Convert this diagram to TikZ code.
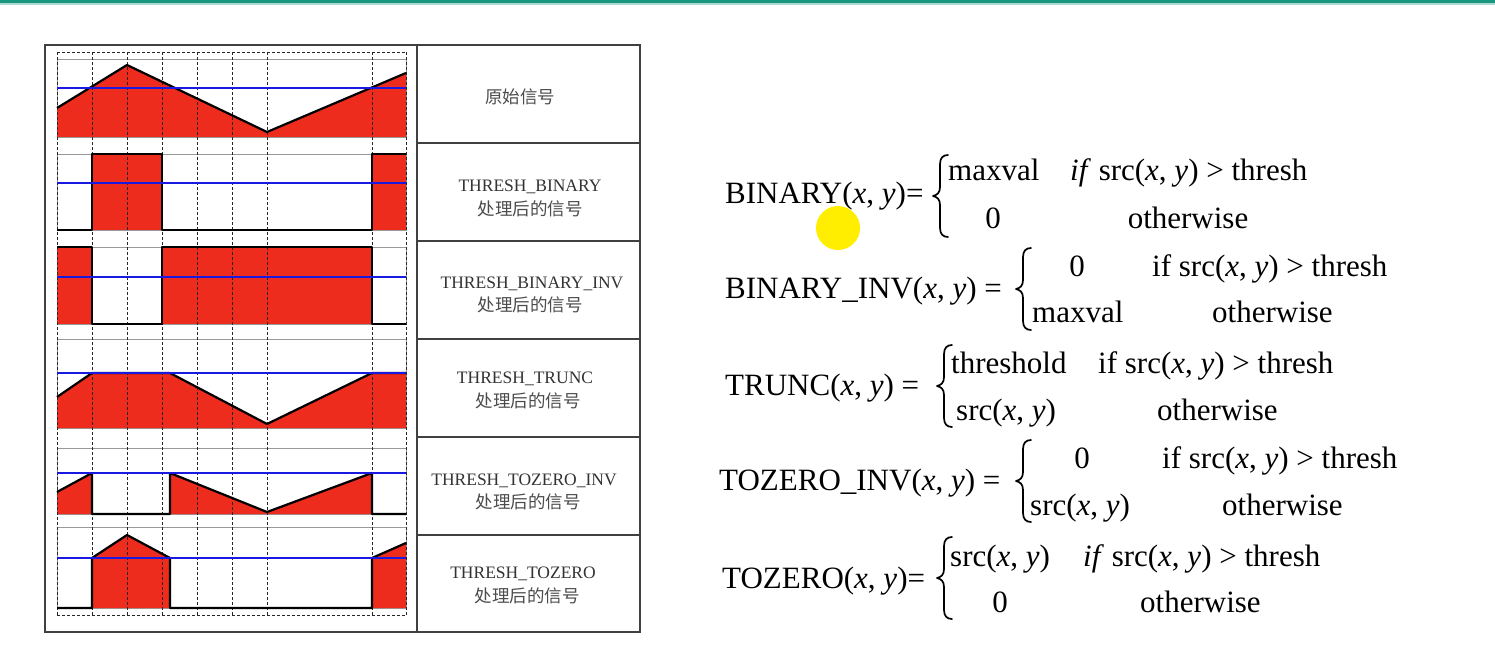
\documentclass[tikz,border=0pt]{standalone}
\usepackage{fontspec}
\setmainfont{Liberation Serif}
\newfontfamily\cjk{Noto Sans CJK SC}
\definecolor{sigred}{RGB}{238,44,30}
\definecolor{thblue}{RGB}{25,25,225}
\definecolor{topbar}{RGB}{24,150,128}
\definecolor{dotyellow}{RGB}{255,238,0}
\begin{document}
\begin{tikzpicture}[x=1pt,y=-1pt,
  frameline/.style={draw=black!75, line width=1.2pt},
  subframe/.style={draw=black!40, line width=0.7pt},
  griddash/.style={draw=black!85, line width=0.7pt, dash pattern=on 3pt off 2pt},
  sigline/.style={draw=black, line width=2.2pt, line join=round},
  thline/.style={draw=thblue, line width=2.2pt},
  title/.style={text=black!80, font=\fontsize{17.5}{19}\selectfont, inner sep=0pt},
  titlecn/.style={text=black!70, font=\cjk\fontsize{17.5}{19}\selectfont, inner sep=0pt},
  formula/.style={font=\fontsize{31}{36}\selectfont, inner sep=0pt},
  curlybrace/.pic={
    \draw[line width=1.7pt, line cap=round, line join=round]
      (15,-41) .. controls (10,-41) and (7,-38) .. (7,-32) -- (7,-9)
      .. controls (7,-3) and (4,-1) .. (0,0)
      .. controls (4,1) and (7,3) .. (7,9) -- (7,32)
      .. controls (7,38) and (10,41) .. (15,41);
  }]
\useasboundingbox (0,0) rectangle (1495,671);
\fill[white] (0,0) rectangle (1495,671);
\fill[topbar] (0,0) rectangle (1495,3.5);
\fill[topbar!35] (0,3.5) rectangle (1495,5);

% sub-plot frames
\foreach \t/\b in {59/137,154/230,247/324,339/428,448/514,527/608}
  \draw[subframe] (57,\t) rectangle (406,\b);

% red fills
\fill[sigred] (57,137) -- (57,108) -- (127,65) -- (267,132) -- (406,73) -- (406,137) -- cycle;
\fill[sigred] (92,154) rectangle (162,230);
\fill[sigred] (372,154) rectangle (406,230);
\fill[sigred] (57,247) rectangle (92,324);
\fill[sigred] (162,247) rectangle (372,324);
\fill[sigred] (57,428) -- (57,397) -- (92,373) -- (170,373) -- (267,424) -- (372,373) -- (406,373) -- (406,428) -- cycle;
\fill[sigred] (57,514) -- (57,492) -- (92,473) -- (92,514) -- cycle;
\fill[sigred] (170,514) -- (170,473) -- (267,512) -- (372,473) -- (372,514) -- cycle;
\fill[sigred] (92,608) -- (92,558) -- (127,535) -- (170,558) -- (170,608) -- cycle;
\fill[sigred] (372,608) -- (372,558) -- (406,543) -- (406,608) -- cycle;

% dashed grid
\foreach \x in {57,92,127,162,197,232,267,372,406}
  \draw[griddash] (\x,52) -- (\x,615);
\draw[griddash] (57,52) -- (406,52);
\draw[griddash] (57,615) -- (406,615);

% signal outlines
\draw[sigline] (57,108) -- (127,65) -- (267,132) -- (406,73);
\draw[sigline] (57,230) -- (92,230) -- (92,154) -- (162,154) -- (162,230) -- (372,230) -- (372,154) -- (406,154);
\draw[sigline] (57,247) -- (92,247) -- (92,324) -- (162,324) -- (162,247) -- (372,247) -- (372,324) -- (406,324);
\draw[sigline] (57,397) -- (92,373) -- (170,373) -- (267,424) -- (372,373) -- (406,373);
\draw[sigline] (57,492) -- (92,473) -- (92,514) -- (170,514) -- (170,473) -- (267,512) -- (372,473) -- (372,514) -- (406,514);
\draw[sigline] (57,608) -- (92,608) -- (92,558) -- (127,535) -- (170,558) -- (170,608) -- (372,608) -- (372,558) -- (406,543);

% threshold lines
\foreach \y in {88,183,277,373,473,558}
  \draw[thline] (57,\y) -- (406,\y);

% table frame
\draw[frameline] (45,45) rectangle (640,632);
\draw[frameline] (417,45) -- (417,632);
\foreach \y in {143,241,339,437,535}
  \draw[frameline] (417,\y) -- (640,\y);

% titles
\node[titlecn] (t1) at (520,97) {原始信号};
\node[title] (t2a) at (530,187) {THRESH\_BINARY};
\node[titlecn] (t2b) at (530,209) {处理后的信号};
\node[title] (t3a) at (532,284) {THRESH\_BINARY\_INV};
\node[titlecn] (t3b) at (530,305) {处理后的信号};
\node[title] (t4a) at (525,379) {THRESH\_TRUNC};
\node[titlecn] (t4b) at (528,401) {处理后的信号};
\node[title] (t5a) at (524,481) {THRESH\_TOZERO\_INV};
\node[titlecn] (t5b) at (528,502) {处理后的信号};
\node[title] (t6a) at (523,574) {THRESH\_TOZERO};
\node[titlecn] (t6b) at (527,596) {处理后的信号};

% formulas
\newcommand{\xy}{(\textit{x}, \textit{y})}
% row 1
\node[formula, anchor=base west] (f1) at (725,203) {BINARY\xy=};
\pic (b1) at (933,196) {curlybrace};
\node[formula, anchor=base west] (f1a) at (948,181) {maxval};
\node[formula, anchor=base] (f1b) at (993,228) {0};
\node[formula, anchor=base west] (f1c) at (1070,181) {\textit{if} src\xy\ > thresh};
\node[formula, anchor=base] (f1d) at (1188,228) {otherwise};
% row 2
\node[formula, anchor=base west] (f2) at (725,298) {BINARY\_INV\xy\ =};
\pic (b2) at (1016,289) {curlybrace};
\node[formula, anchor=base] (f2a) at (1077,276) {0};
\node[formula, anchor=base west] (f2b) at (1032,322) {maxval};
\node[formula, anchor=base west] (f2c) at (1152,276) {if src\xy\ > thresh};
\node[formula, anchor=base west] (f2d) at (1212,322) {otherwise};
% row 3
\node[formula, anchor=base west] (f3) at (725,395) {TRUNC\xy\ =};
\pic (b3) at (937,386) {curlybrace};
\node[formula, anchor=base west] (f3a) at (951,373) {threshold};
\node[formula, anchor=base west] (f3b) at (956,420) {src\xy};
\node[formula, anchor=base west] (f3c) at (1098,373) {if src\xy\ > thresh};
\node[formula, anchor=base west] (f3d) at (1157,420) {otherwise};
% row 4
\node[formula, anchor=base west] (f4) at (719,490) {TOZERO\_INV\xy\ =};
\pic (b4) at (1016,481) {curlybrace};
\node[formula, anchor=base] (f4a) at (1082,468) {0};
\node[formula, anchor=base west] (f4b) at (1030,515) {src\xy};
\node[formula, anchor=base west] (f4c) at (1162,468) {if src\xy\ > thresh};
\node[formula, anchor=base west] (f4d) at (1222,515) {otherwise};
% row 5
\node[formula, anchor=base west] (f5) at (722,588) {TOZERO\xy=};
\pic (b5) at (937,578) {curlybrace};
\node[formula, anchor=base west] (f5a) at (950,566) {src\xy};
\node[formula, anchor=base west] (f5b) at (1083,566) {\textit{if} src\xy\ > thresh};
\node[formula, anchor=base] (f5c) at (1000,612) {0};
\node[formula, anchor=base west] (f5d) at (1140,612) {otherwise};

% cursor highlight
\node[circle, fill=dotyellow, minimum size=44pt, inner sep=0pt] (cursor) at (838,228) {};
\end{tikzpicture}
\end{document}
